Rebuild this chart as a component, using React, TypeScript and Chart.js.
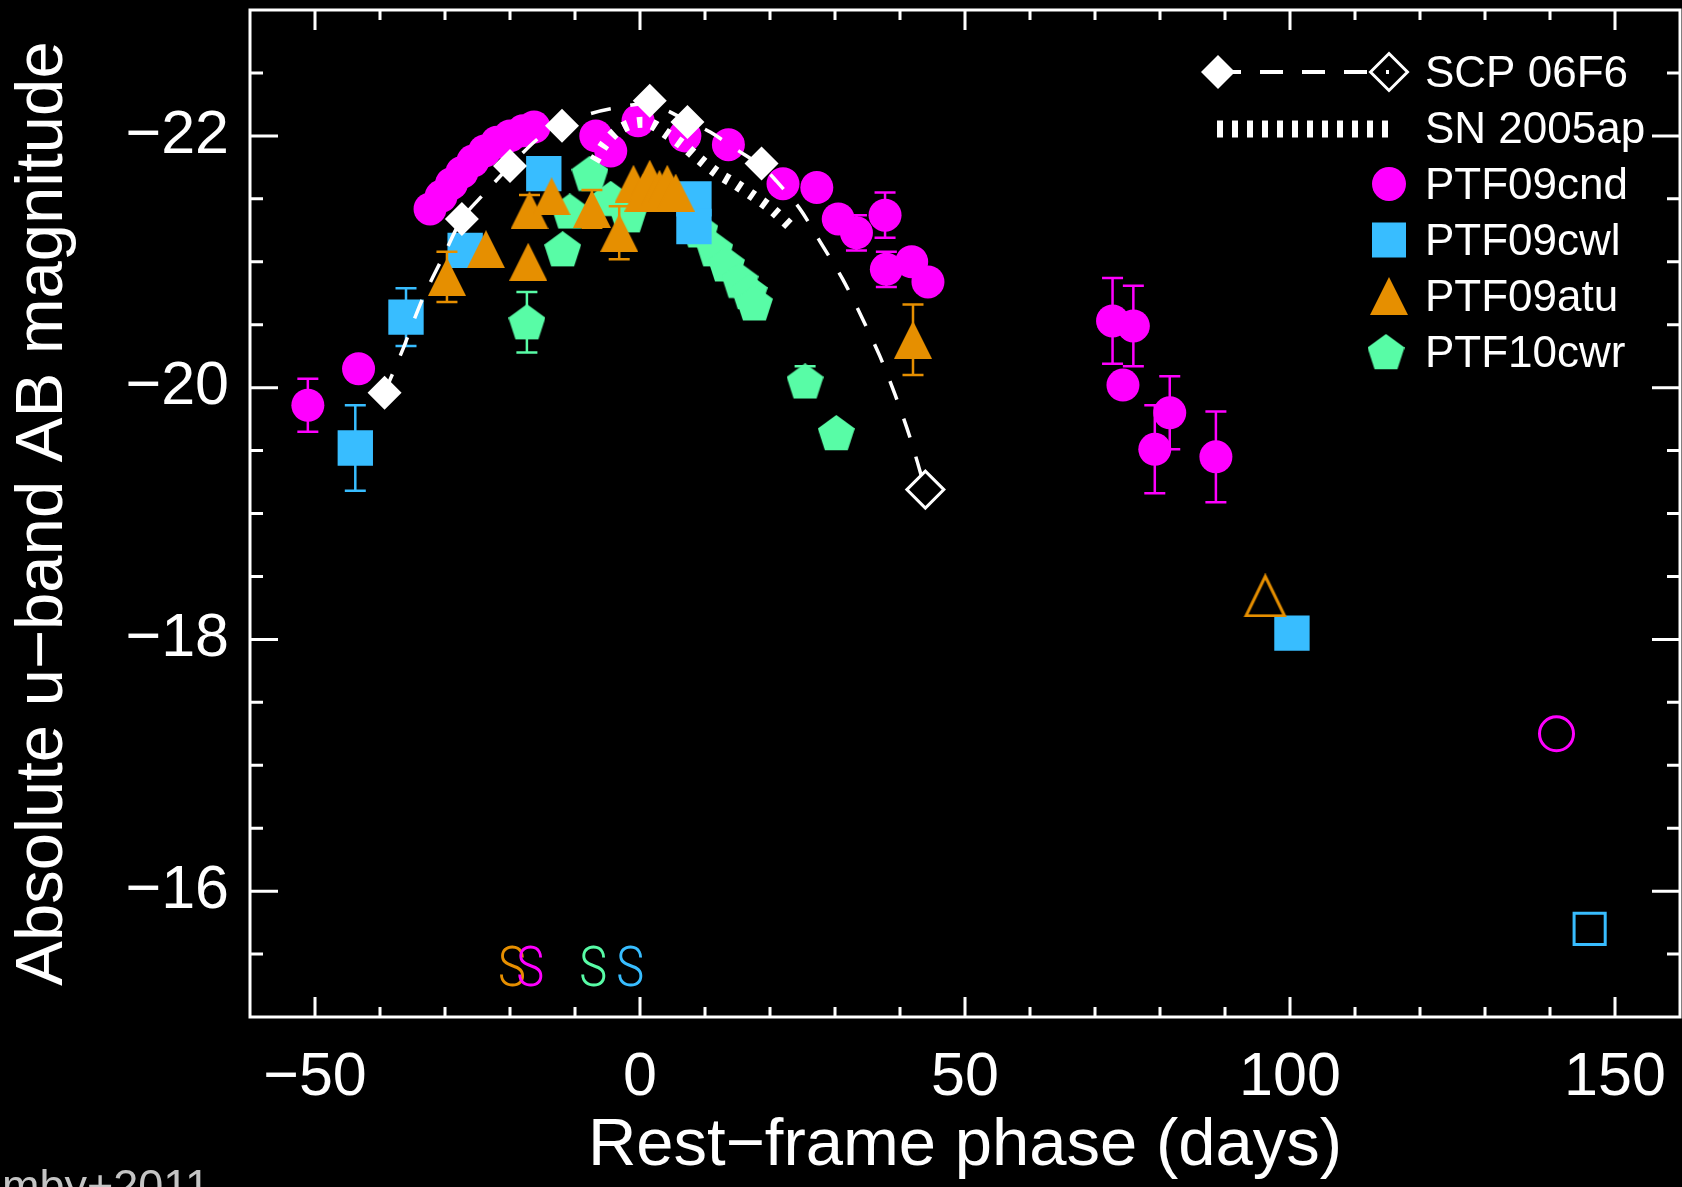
import React, { useEffect, useRef } from 'react';
import { Chart, registerables } from 'chart.js';

Chart.register(...registerables);

const W = 1682;
const H = 1187;
const FONT = '"Liberation Sans", Arial, Helvetica, sans-serif';

const WHITE = '#ffffff';
const MAGENTA = '#ff00ff';
const BLUE = '#38bdff';
const ORANGE = '#e68f00';
const GREEN = '#58fca6';

// Axis ticks
const xTickValues = [-50, 0, 50, 100, 150];
const yTickValues = [-22, -20, -18, -16];
const xRange = [-60, 160];
const yRange = [-23, -15];

// SCP 06F6 (diamonds; the last one is an open symbol)
const scpPhase = [-39.3, -27.4, -20.0, -12.0, 1.5, 7.3, 18.7, 43.9];
const scpMag = [-19.96, -21.34, -21.76, -22.08, -22.28, -22.11, -21.78, -19.19];
const scpOpen = [false, false, false, false, false, false, false, true];

// SCP 06F6 light-curve fit (dashed)
const scpFitPhase = [-39.3, -36.6, -33.5, -30.2, -27.4, -24.0, -20.0, -15.4, -12.0, -8.0, -4.0, 1.5, 7.3, 10.8, 14.9, 18.7, 21.0, 24.6, 27.7, 31.2, 34.3, 36.9, 39.2, 41.5, 43.9];
const scpFitMag = [-19.96, -20.29, -20.7, -21.05, -21.34, -21.54, -21.76, -21.99, -22.08, -22.17, -22.22, -22.25, -22.12, -22.03, -21.89, -21.76, -21.64, -21.42, -21.16, -20.86, -20.54, -20.25, -19.95, -19.61, -19.19];

// SN 2005ap (thick dotted curve)
const sn05apPhase = [-7.0, -5.5, -3.5, -1.0, 1.5, 4.0, 6.5, 9.0, 12.0, 14.6, 17.5, 20.2, 23.8];
const sn05apMag = [-21.8, -21.93, -22.04, -22.1, -22.1, -22.02, -21.93, -21.82, -21.7, -21.62, -21.52, -21.42, -21.25];

// PTF09cnd
const cndPhase = [-51.1, -43.3, -32.3, -30.6, -29.0, -27.4, -25.7, -23.9, -22.0, -20.0, -18.0, -16.3, -6.8, -4.5, -0.3, 6.9, 13.6, 22.0, 27.2, 30.5, 33.3, 37.7, 37.9, 41.8, 44.3, 72.7, 74.3, 75.9, 79.2, 81.5, 88.6];
const cndMag = [-19.86, -20.15, -21.42, -21.52, -21.62, -21.71, -21.8, -21.88, -21.95, -22.0, -22.04, -22.07, -22.0, -21.88, -22.12, -22.0, -21.93, -21.62, -21.59, -21.34, -21.23, -21.37, -20.94, -21.0, -20.84, -20.53, -20.02, -20.49, -19.51, -19.8, -19.45];
const cndErr = [0.21, 0, 0, 0, 0, 0, 0, 0, 0, 0, 0, 0, 0, 0, 0, 0, 0, 0, 0, 0, 0.14, 0.18, 0.14, 0, 0, 0.34, 0, 0.32, 0.35, 0.29, 0.36];
const cndOpenPhase = [141.0];
const cndOpenMag = [-17.25];

// PTF09cwl
const cwlPhase = [-43.8, -36.0, -26.9, -14.8, 8.3, 8.3, 100.3];
const cwlMag = [-19.52, -20.56, -21.09, -21.7, -21.5, -21.28, -18.05];
const cwlErr = [0.34, 0.23, 0, 0, 0, 0, 0];
const cwlOpenPhase = [146.1];
const cwlOpenMag = [-15.7];

// PTF09atu
const atuPhase = [-29.7, -23.7, -17.2, -17.0, -13.6, -7.4, -3.2, -1.0, 0.5, 1.5, 3.0, 4.2, 5.5, 42.0];
const atuMag = [-20.88, -21.1, -21.0, -21.41, -21.52, -21.42, -21.23, -21.62, -21.55, -21.66, -21.58, -21.62, -21.55, -20.38];
const atuErr = [0.2, 0, 0, 0.12, 0, 0.15, 0.21, 0, 0, 0, 0, 0, 0, 0.28];
const atuOpenPhase = [96.2];
const atuOpenMag = [-18.35];

// PTF10cwr
const cwrPhase = [-17.4, -11.9, -10.8, -7.7, -4.5, -1.8, 9.2, 11.5, 13.3, 15.4, 16.8, 17.6, 25.4, 30.2];
const cwrMag = [-20.52, -21.1, -21.4, -21.7, -21.5, -21.37, -21.25, -21.1, -20.98, -20.85, -20.76, -20.67, -20.05, -19.64];
const cwrErr = [0.24, 0, 0, 0, 0, 0, 0, 0, 0, 0, 0, 0, 0.12, 0];

// Spectrum epochs ("S" marks)
const atuSpecPhase = [-19.7];
const cndSpecPhase = [-16.9];
const cwrSpecPhase = [-7.2];
const cwlSpecPhase = [-1.5];
const specLevel = -15.36;

const pts = (xs: number[], ys: number[]) => xs.map((x, i) => ({ x, y: ys[i] }));
const minus = (v: number) => String(v).replace('-', '\u2212');

function makeTriangle(size: number, color: string, filled: boolean, lw = 3) {
  const c = document.createElement('canvas');
  c.width = size;
  c.height = size;
  const g = c.getContext('2d')!;
  const p = filled ? 0 : lw;
  g.beginPath();
  g.moveTo(size / 2, p);
  g.lineTo(size - p * 0.9, size - lw / 2 - (filled ? -lw / 2 : 0));
  g.lineTo(p * 0.9, size - lw / 2 - (filled ? -lw / 2 : 0));
  g.closePath();
  if (filled) {
    g.fillStyle = color;
    g.fill();
  } else {
    g.strokeStyle = color;
    g.lineWidth = lw;
    g.stroke();
  }
  return c;
}

function makePentagon(w: number, color: string) {
  const R = w / (2 * Math.sin((2 * Math.PI) / 5));
  const h = Math.ceil(R * (1 + Math.cos(Math.PI / 5)));
  const c = document.createElement('canvas');
  c.width = Math.ceil(w);
  c.height = h;
  const g = c.getContext('2d')!;
  g.beginPath();
  for (let k = 0; k < 5; k++) {
    const a = -Math.PI / 2 + (k * 2 * Math.PI) / 5;
    const px = w / 2 + R * Math.cos(a);
    const py = R + R * Math.sin(a);
    if (k === 0) g.moveTo(px, py);
    else g.lineTo(px, py);
  }
  g.closePath();
  g.fillStyle = color;
  g.fill();
  return c;
}

function diamond(ctx: CanvasRenderingContext2D, x: number, y: number, r: number) {
  ctx.beginPath();
  ctx.moveTo(x - r, y);
  ctx.lineTo(x, y - r);
  ctx.lineTo(x + r, y);
  ctx.lineTo(x, y + r);
  ctx.closePath();
}

const backgroundPlugin = {
  id: 'blackBackground',
  beforeDraw(chart: any) {
    const { ctx } = chart;
    ctx.save();
    ctx.fillStyle = '#000';
    ctx.fillRect(0, 0, chart.width, chart.height);
    ctx.restore();
  },
};

const errorBarPlugin = {
  id: 'errorBars',
  beforeDatasetDraw(chart: any, args: any) {
    const ds = chart.data.datasets[args.index];
    const errs: number[] | undefined = ds.errorBars;
    if (!errs) return;
    const { ctx, chartArea: a } = chart;
    const ys = chart.scales.y;
    ctx.save();
    ctx.beginPath();
    ctx.rect(a.left, a.top, a.right - a.left, a.bottom - a.top);
    ctx.clip();
    ctx.strokeStyle = ds.errorColor;
    ctx.lineWidth = 2.5;
    args.meta.data.forEach((el: any, i: number) => {
      const e = errs[i];
      if (!e) return;
      const v = ds.data[i].y;
      const t = ys.getPixelForValue(v - e);
      const b = ys.getPixelForValue(v + e);
      const x = el.x;
      ctx.beginPath();
      ctx.moveTo(x, t);
      ctx.lineTo(x, b);
      ctx.moveTo(x - 10.5, t);
      ctx.lineTo(x + 10.5, t);
      ctx.moveTo(x - 10.5, b);
      ctx.lineTo(x + 10.5, b);
      ctx.stroke();
    });
    ctx.restore();
  },
};

const frameAndMarksPlugin = {
  id: 'frameAndMarks',
  afterDatasetsDraw(chart: any) {
    const { ctx, chartArea: a } = chart;
    const xs = chart.scales.x;
    const ys = chart.scales.y;

    // spectrum epoch letters
    const marks = [
      { phases: atuSpecPhase, color: ORANGE },
      { phases: cndSpecPhase, color: MAGENTA },
      { phases: cwrSpecPhase, color: GREEN },
      { phases: cwlSpecPhase, color: BLUE },
    ];
    ctx.save();
    ctx.font = `300 56px Roboto, ${FONT}`;
    ctx.textAlign = 'center';
    ctx.textBaseline = 'middle';
    marks.forEach((m) => {
      m.phases.forEach((p) => {
        ctx.save();
        ctx.translate(xs.getPixelForValue(p), ys.getPixelForValue(specLevel));
        ctx.scale(0.84, 1);
        ctx.fillStyle = m.color;
        ctx.fillText('S', 0, 0);
        ctx.restore();
      });
    });
    ctx.restore();

    // box and inward tick marks
    ctx.save();
    ctx.strokeStyle = WHITE;
    ctx.lineWidth = 3;
    ctx.strokeRect(a.left, a.top, a.right - a.left, a.bottom - a.top);
    ctx.beginPath();
    for (let v = xRange[0] + 10; v < xRange[1]; v += 10) {
      const px = xs.getPixelForValue(v);
      const len = xTickValues.includes(v) ? 20 : 10;
      ctx.moveTo(px, a.bottom);
      ctx.lineTo(px, a.bottom - len);
      ctx.moveTo(px, a.top);
      ctx.lineTo(px, a.top + len);
    }
    for (let v = yRange[0] + 0.5; v < yRange[1]; v += 0.5) {
      const py = ys.getPixelForValue(v);
      const len = yTickValues.includes(v) ? 28 : 13;
      ctx.moveTo(a.left, py);
      ctx.lineTo(a.left + len, py);
      ctx.moveTo(a.right, py);
      ctx.lineTo(a.right - len, py);
    }
    ctx.stroke();
    ctx.restore();
  },
  afterDraw(chart: any) {
    const { ctx } = chart;
    const ds = chart.data.datasets;
    const label = (key: string) => ds.find((d: any) => d.legendKey === key)?.label ?? '';

    ctx.save();
    const textX = 1425;
    const markX = 1389;
    const base = (i: number) => 86.5 + 56 * i;
    const my = (i: number) => base(i) - 14.5;

    // SCP 06F6: filled diamond, dashes, open diamond
    ctx.strokeStyle = WHITE;
    ctx.lineWidth = 4;
    ctx.setLineDash([23, 19]);
    ctx.beginPath();
    ctx.moveTo(1218, my(0));
    ctx.lineTo(markX, my(0));
    ctx.stroke();
    ctx.setLineDash([]);
    ctx.fillStyle = WHITE;
    diamond(ctx, 1218, my(0), 17);
    ctx.fill();
    ctx.lineWidth = 3;
    diamond(ctx, markX, my(0), 18.5);
    ctx.stroke();

    // SN 2005ap: thick dotted
    ctx.lineWidth = 17;
    ctx.setLineDash([6, 9]);
    ctx.beginPath();
    ctx.moveTo(1217, my(1) + 1);
    ctx.lineTo(1390, my(1) + 1);
    ctx.stroke();
    ctx.setLineDash([]);

    // PTF09cnd circle
    ctx.fillStyle = MAGENTA;
    ctx.beginPath();
    ctx.arc(markX, my(2), 17, 0, Math.PI * 2);
    ctx.fill();
    // PTF09cwl square
    ctx.fillStyle = BLUE;
    ctx.fillRect(markX - 17, my(3) - 17.5, 34, 35);
    // PTF09atu triangle, PTF10cwr pentagon
    ctx.drawImage(triFilled, markX - triFilled.width / 2, my(4) - triFilled.height / 2);
    ctx.drawImage(pentFilled, markX - 3 - pentFilled.width / 2, my(5) - pentFilled.height / 2);

    ctx.fillStyle = WHITE;
    ctx.font = `44px ${FONT}`;
    ctx.textAlign = 'left';
    ctx.textBaseline = 'alphabetic';
    ['scp', 'sn05ap', 'cnd', 'cwl', 'atu', 'cwr'].forEach((k, i) => {
      ctx.fillText(label(k), textX, base(i));
    });

    // attribution (partly cut by the page edge)
    ctx.fillStyle = '#c4c4c4';
    ctx.font = `45px ${FONT}`;
    ctx.textAlign = 'right';
    ctx.fillText('mby+2011', 210, 1201);
    ctx.restore();
  },
};

let triFilled: HTMLCanvasElement;
let pentFilled: HTMLCanvasElement;

function buildConfig(): any {
  triFilled = makeTriangle(38, ORANGE, true);
  const triOpen = makeTriangle(44, ORANGE, false, 3);
  pentFilled = makePentagon(37, GREEN);

  const datasets: any[] = [
    {
      label: 'SCP 06F6',
      legendKey: 'scp',
      data: pts(scpPhase, scpMag),
      pointStyle: 'rectRot',
      pointRadius: scpOpen.map((o) => (o ? 18.5 : 17)),
      pointBackgroundColor: scpOpen.map((o) => (o ? 'rgba(0,0,0,0)' : WHITE)),
      pointBorderColor: WHITE,
      pointBorderWidth: scpOpen.map((o) => (o ? 3 : 0)),
      order: 0,
    },
    {
      label: 'SCP 06F6 fit',
      data: pts(scpFitPhase, scpFitMag),
      showLine: true,
      pointRadius: 0,
      borderColor: WHITE,
      borderWidth: 3.5,
      borderDash: [20, 20],
      tension: 0.3,
      fill: false,
      order: 1,
    },
    {
      label: 'SN 2005ap',
      legendKey: 'sn05ap',
      data: pts(sn05apPhase, sn05apMag),
      showLine: true,
      pointRadius: 0,
      borderColor: WHITE,
      borderWidth: 11,
      borderDash: [5, 10],
      tension: 0.3,
      fill: false,
      order: 2,
    },
    {
      label: 'PTF09cnd',
      legendKey: 'cnd',
      data: pts(cndPhase, cndMag),
      errorBars: cndErr,
      errorColor: MAGENTA,
      pointStyle: 'circle',
      pointRadius: 16.5,
      pointBackgroundColor: MAGENTA,
      pointBorderWidth: 0,
      order: 3,
    },
    {
      label: 'PTF09cnd (late)',
      data: pts(cndOpenPhase, cndOpenMag),
      pointStyle: 'circle',
      pointRadius: 17,
      pointBackgroundColor: 'rgba(0,0,0,0)',
      pointBorderColor: MAGENTA,
      pointBorderWidth: 3,
      order: 3,
    },
    {
      label: 'PTF09atu',
      legendKey: 'atu',
      data: pts(atuPhase, atuMag),
      errorBars: atuErr,
      errorColor: ORANGE,
      pointStyle: triFilled,
      pointRadius: 19,
      order: 4,
    },
    {
      label: 'PTF09atu (late)',
      data: pts(atuOpenPhase, atuOpenMag),
      pointStyle: triOpen,
      pointRadius: 22,
      order: 4,
    },
    {
      label: 'PTF09cwl',
      legendKey: 'cwl',
      data: pts(cwlPhase, cwlMag),
      errorBars: cwlErr,
      errorColor: BLUE,
      pointStyle: 'rect',
      pointRadius: 25,
      pointBackgroundColor: BLUE,
      pointBorderWidth: 0,
      order: 5,
    },
    {
      label: 'PTF09cwl (late)',
      data: pts(cwlOpenPhase, cwlOpenMag),
      pointStyle: 'rect',
      pointRadius: 22,
      pointBackgroundColor: 'rgba(0,0,0,0)',
      pointBorderColor: BLUE,
      pointBorderWidth: 3,
      order: 5,
    },
    {
      label: 'PTF10cwr',
      legendKey: 'cwr',
      data: pts(cwrPhase, cwrMag),
      errorBars: cwrErr,
      errorColor: GREEN,
      pointStyle: pentFilled,
      pointRadius: 18,
      order: 6,
    },
  ];

  return {
    type: 'scatter',
    data: { datasets },
    plugins: [backgroundPlugin, errorBarPlugin, frameAndMarksPlugin],
    options: {
      responsive: false,
      animation: false,
      devicePixelRatio: 1,
      events: [],
      layout: { autoPadding: false, padding: { left: 0, top: 10, right: 2, bottom: 0 } },
      plugins: { legend: { display: false }, tooltip: { enabled: false }, title: { display: false } },
      scales: {
        x: {
          type: 'linear',
          min: xRange[0],
          max: xRange[1],
          grid: { display: false, drawTicks: false },
          border: { display: false },
          afterBuildTicks: (s: any) => {
            s.ticks = xTickValues.map((v) => ({ value: v }));
          },
          afterFit: (s: any) => {
            s.height = 170;
            s.paddingLeft = 0;
            s.paddingRight = 0;
            s.paddingTop = 0;
            s.paddingBottom = 0;
          },
          ticks: {
            color: WHITE,
            font: { family: FONT, size: 61 },
            padding: 25,
            autoSkip: false,
            maxRotation: 0,
            callback: (v: number) => minus(v),
          },
          title: {
            display: true,
            text: 'Rest\u2212frame phase (days)',
            color: WHITE,
            font: { family: FONT, size: 67 },
            padding: { top: 0, bottom: 0 },
          },
        },
        y: {
          type: 'linear',
          reverse: true,
          min: yRange[0],
          max: yRange[1],
          grid: { display: false, drawTicks: false },
          border: { display: false },
          afterBuildTicks: (s: any) => {
            s.ticks = yTickValues.map((v) => ({ value: v }));
          },
          afterFit: (s: any) => {
            s.width = 250;
            s.paddingLeft = 0;
            s.paddingRight = 0;
            s.paddingTop = 0;
            s.paddingBottom = 0;
          },
          ticks: {
            color: WHITE,
            font: { family: FONT, size: 61 },
            padding: 21,
            autoSkip: false,
            callback: (v: number) => minus(v),
          },
          title: {
            display: true,
            text: 'Absolute u\u2212band AB magnitude',
            color: WHITE,
            font: { family: FONT, size: 67 },
            padding: { top: 3, bottom: 0 },
          },
        },
      },
    },
  };
}

export default function App() {
  const ref = useRef<HTMLCanvasElement>(null);
  useEffect(() => {
    const canvas = ref.current;
    if (!canvas) return;
    const chart = new Chart(canvas, buildConfig());
    return () => chart.destroy();
  }, []);
  return (
    <div style={{ position: 'fixed', left: 0, top: 0, width: W, height: H, background: '#000', overflow: 'hidden' }}>
      <canvas ref={ref} width={W} height={H} style={{ display: 'block', width: W, height: H }} />
    </div>
  );
}
